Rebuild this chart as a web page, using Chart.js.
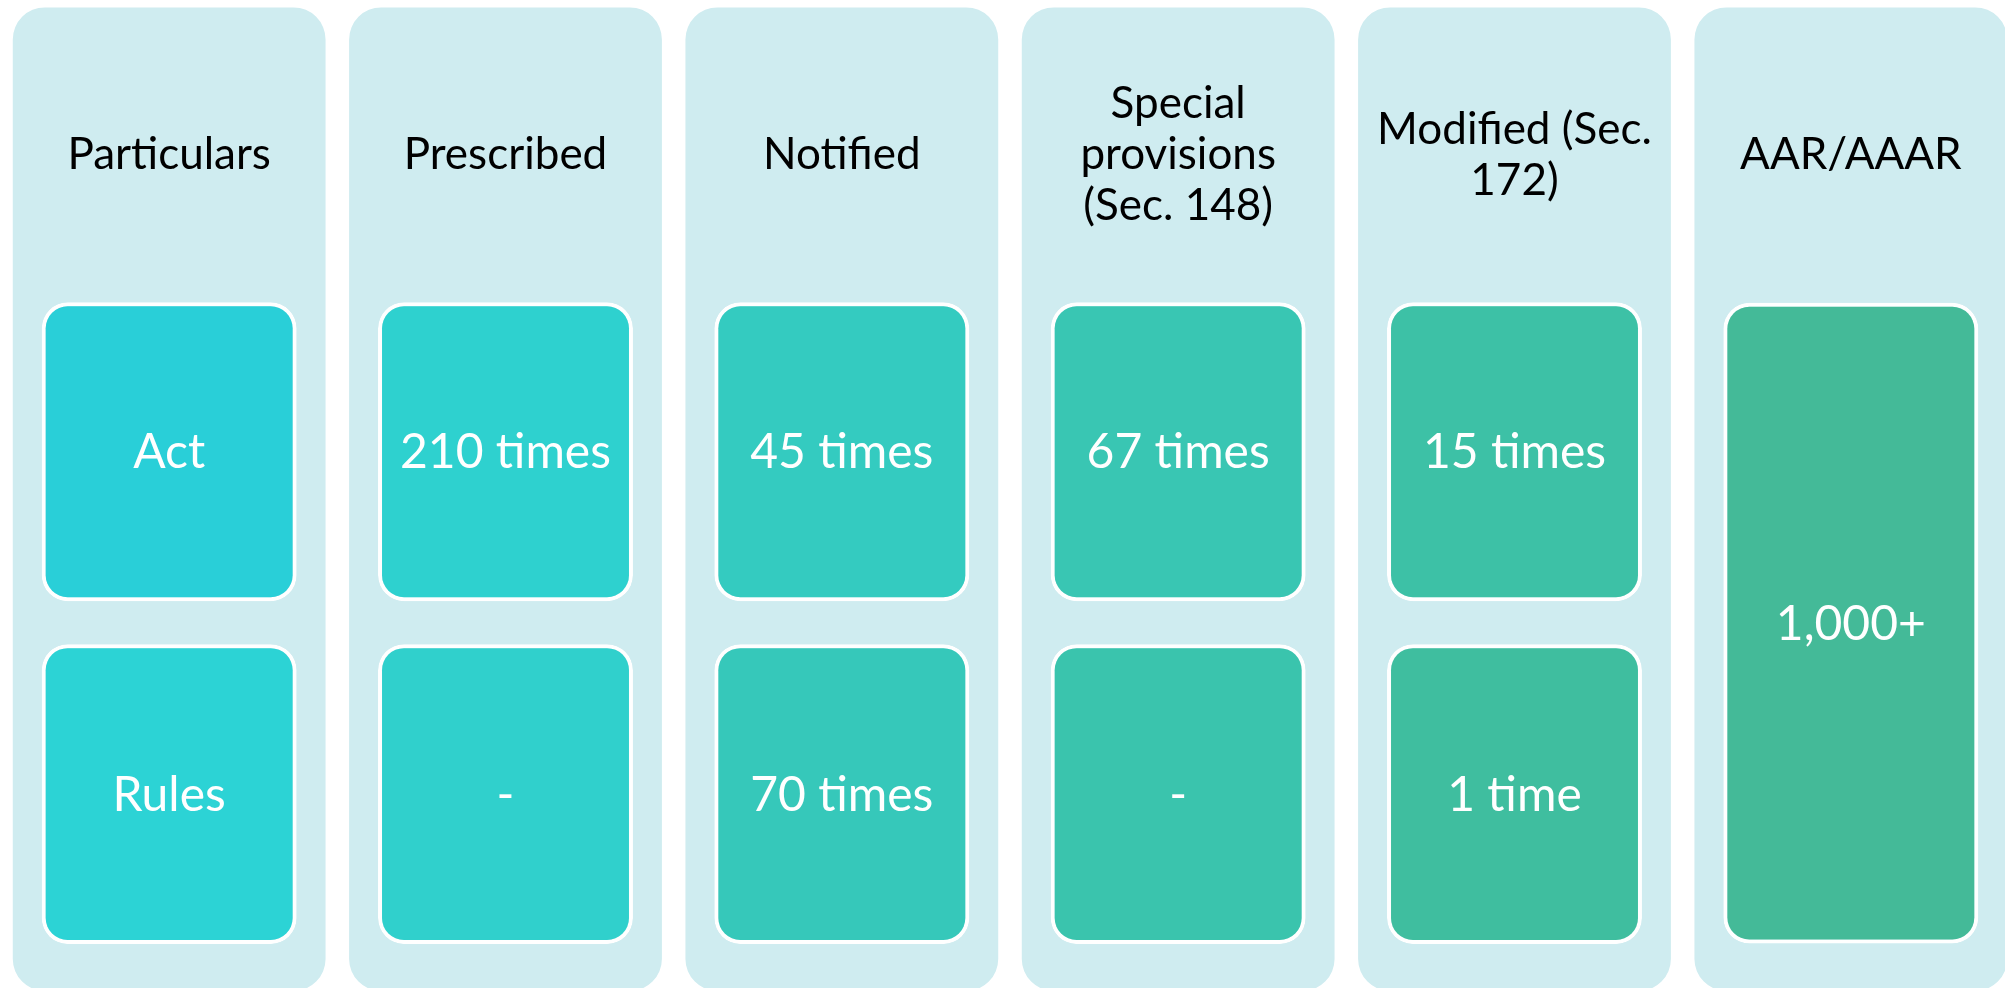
<!DOCTYPE html>
<html>
<head>
<meta charset="utf-8">
<script src="https://cdn.jsdelivr.net/npm/chart.js@4.4.1/dist/chart.umd.min.js"></script>
<style>
  html, body { margin: 0; padding: 0; background: #fff; overflow: hidden; }
  #wrap { position: absolute; left: 1px; top: 0; width: 2018px; height: 988px; }
</style>
</head>
<body>
<div id="wrap"><canvas id="diagram"></canvas></div>
<script>
// column headings (multi-line where the reference wraps)
var headings = [
    ['Particulars'],
    ['Prescribed'],
    ['Notified'],
    ['Special', 'provisions', '(Sec. 148)'],
    ['Modified (Sec.', '172)'],
    ['AAR/AAAR']
];
var actValues = ['Act', '210 times', '45 times', '67 times', '15 times', null];
var rulesValues = ['Rules', '-', '70 times', '-', '1 time', null];
var mergedValues = [null, null, null, null, null, '1,000+'];

var columnFill = '#CFECF0';
var actColors = ['#29CFD8', '#2ED1CF', '#34CBC0', '#39C6B3', '#3DC1A6', '#44BA98'];
var rulesColors = ['#2CD3D5', '#30D0CC', '#36C8BA', '#3AC4AD', '#3FBE9F', '#44BA98'];

// row spans on a 0-100 scale, top to bottom
var colSpan = [0.75, 100.3];
var actSpan = [30.6, 60.85];
var rulesSpan = [65.2, 95.55];
var mergedSpan = [30.65, 95.5];

function spans(values, span) {
    return values.map(function (v) { return v === null ? null : span; });
}

function box(label, values, span, colors) {
    return {
        label: label,
        data: spans(values, span),
        backgroundColor: colors,
        borderColor: '#fff',
        borderWidth: 4,
        borderRadius: 26,
        borderSkipped: false,
        barPercentage: 0.758,
        categoryPercentage: 1,
        order: 0
    };
}

var textPlugin = {
    id: 'boxText',
    afterDatasetsDraw: function (chart) {
        var c = chart.ctx;
        var y = chart.scales.y;
        c.save();
        c.textAlign = 'center';
        c.textBaseline = 'middle';
        c.font = '44px Lato';
        var lineH = 51;

        var cols = chart.getDatasetMeta(0).data;
        var headY = (y.getPixelForValue(colSpan[0]) + y.getPixelForValue(actSpan[0])) / 2;
        c.fillStyle = '#000';
        cols.forEach(function (bar, i) {
            var lines = headings[i];
            var start = headY - (lines.length - 1) * lineH / 2;
            lines.forEach(function (t, k) { c.fillText(t, bar.x, start + k * lineH); });
        });

        c.fillStyle = '#fff';
        c.font = '48px Lato';
        [[1, actValues], [2, rulesValues], [3, mergedValues]].forEach(function (pair) {
            var meta = chart.getDatasetMeta(pair[0]);
            pair[1].forEach(function (t, i) {
                if (t === null) return;
                var p = meta.data[i].getCenterPoint();
                c.fillText(t, p.x, p.y + 1);
            });
        });
        c.restore();
    }
};

var diagram = new Chart(document.getElementById('diagram'), {
    type: 'bar',
    data: {
        labels: headings,
        datasets: [{
            label: 'column',
            data: spans(headings, colSpan),
            backgroundColor: columnFill,
            borderWidth: 0,
            borderRadius: 32,
            borderSkipped: false,
            barPercentage: 0.93,
            categoryPercentage: 1,
            clip: false,
            order: 1
        },
        box('Act', actValues, actSpan, actColors),
        box('Rules', rulesValues, rulesSpan, rulesColors),
        box('Act and Rules', mergedValues, mergedSpan, actColors)]
    },
    options: {
        responsive: true,
        maintainAspectRatio: false,
        animation: false,
        layout: { padding: 0 },
        plugins: {
            legend: { display: false },
            tooltip: { enabled: false }
        },
        scales: {
            x: { display: false, offset: true },
            y: { display: false, min: 0, max: 100, reverse: true }
        },
        datasets: { bar: { grouped: false } }
    },
    plugins: [textPlugin]
});
</script>
</body>
</html>
